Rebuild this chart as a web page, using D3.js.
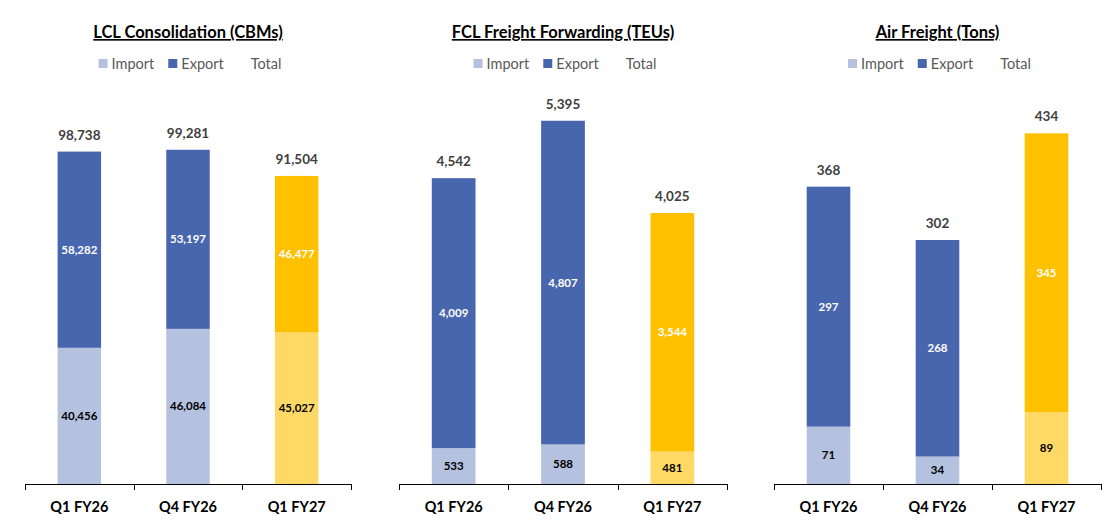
<!DOCTYPE html>
<html>
<head>
<meta charset="utf-8">
<script src="https://cdn.jsdelivr.net/npm/d3@7"></script>
<style>
  body { margin: 0; background: #fff; }
  svg { display: block; font-family: Lato, "Open Sans", sans-serif; }
</style>
</head>
<body>
<svg id="main-svg" width="1120" height="532"></svg>
<script>
'use strict';

const quarters = ['Q1 FY26', 'Q4 FY26', 'Q1 FY27'];

const chart_titles = ['LCL Consolidation (CBMs)', 'FCL Freight Forwarding (TEUs)', 'Air Freight (Tons)'];
const lcl_import = [40456, 46084, 45027];
const lcl_export = [58282, 53197, 46477];
const fcl_import = [533, 588, 481];
const fcl_export = [4009, 4807, 3544];
const air_import = [71, 34, 89];
const air_export = [297, 268, 345];
const y_max = [120000, 6000, 500];

const legend_labels = ['Import', 'Export', 'Total'];

const colors = {
    import: '#b4c2e0',
    export: '#4866ad',
    import_hl: '#ffd966',
    export_hl: '#ffc000',
    text: '#404040',
    legend: '#595959',
};

const panels = [
    {title: chart_titles[0], imp: lcl_import, exp: lcl_export, max: y_max[0], x0: 25, x1: 351},
    {title: chart_titles[1], imp: fcl_import, exp: fcl_export, max: y_max[1], x0: 399, x1: 727},
    {title: chart_titles[2], imp: air_import, exp: air_export, max: y_max[2], x0: 774, x1: 1101},
];

const fmt = d3.format(',');
const svg = d3.select('#main-svg');
const base_y = 484, top_y = 80;

panels.forEach((p) => {
    const g = svg.append('g');
    const cx = (p.x0 + p.x1) / 2;

    const x = d3.scaleBand().domain(quarters).range([p.x0, p.x1]).paddingInner(0.6).paddingOuter(0.3);
    const y = d3.scaleLinear().domain([0, p.max]).range([base_y, top_y]);

    // title
    g.append('text')
        .attr('x', cx).attr('y', 38)
        .attr('text-anchor', 'middle')
        .attr('font-size', 16.5).attr('font-weight', 'bold')
        .attr('fill', '#000')
        .attr('text-decoration', 'underline')
        .text(p.title);

    // legend
    const leg = g.append('g');
    let lx = 0;
    legend_labels.forEach((name, i) => {
        if (i < 2) {
            leg.append('rect').attr('x', lx).attr('y', 59).attr('width', 9).attr('height', 9)
                .attr('fill', i == 0 ? colors.import : colors.export);
        }
        lx += 13;
        const t = leg.append('text').attr('x', lx).attr('y', 69)
            .attr('font-size', 14.5).attr('fill', colors.legend).text(name);
        lx += t.node().getComputedTextLength() + 14;
    });
    const lw = lx - 14;
    leg.attr('transform', `translate(${cx - lw / 2 + 2},0)`);

    const rows = quarters.map((q, i) => ({q, imp: p.imp[i], exp: p.exp[i], hl: i == 2}));

    // import segment
    g.selectAll('rect.imp').data(rows).enter().append('rect')
        .attr('x', (d) => x(d.q)).attr('width', x.bandwidth())
        .attr('y', (d) => y(d.imp)).attr('height', (d) => y(0) - y(d.imp))
        .attr('fill', (d) => d.hl ? colors.import_hl : colors.import);

    // export segment
    g.selectAll('rect.exp').data(rows).enter().append('rect')
        .attr('x', (d) => x(d.q)).attr('width', x.bandwidth())
        .attr('y', (d) => y(d.imp + d.exp)).attr('height', (d) => y(d.imp) - y(d.imp + d.exp))
        .attr('fill', (d) => d.hl ? colors.export_hl : colors.export);

    const mid = (d) => x(d.q) + x.bandwidth() / 2;

    g.selectAll('text.imp').data(rows).enter().append('text')
        .attr('x', mid).attr('y', (d) => (y(0) + y(d.imp)) / 2 + 4)
        .attr('text-anchor', 'middle').attr('font-size', 11.5).attr('font-weight', 'bold')
        .attr('fill', '#000').text((d) => fmt(d.imp));

    g.selectAll('text.exp').data(rows).enter().append('text')
        .attr('x', mid).attr('y', (d) => (y(d.imp) + y(d.imp + d.exp)) / 2 + 4)
        .attr('text-anchor', 'middle').attr('font-size', 11.5).attr('font-weight', 'bold')
        .attr('fill', '#fff').text((d) => fmt(d.exp));

    // totals
    g.selectAll('text.tot').data(rows).enter().append('text')
        .attr('x', mid).attr('y', (d) => y(d.imp + d.exp) - 12)
        .attr('text-anchor', 'middle').attr('font-size', 13.5).attr('font-weight', 'bold')
        .attr('fill', colors.text).text((d) => fmt(d.imp + d.exp));

    // axis
    const ax = g.append('g');
    ax.append('line').attr('x1', p.x0).attr('x2', p.x1).attr('y1', base_y + 0.5).attr('y2', base_y + 0.5)
        .attr('stroke', '#000').attr('stroke-width', 1);
    const step = (p.x1 - p.x0) / quarters.length;
    d3.range(quarters.length + 1).forEach((i) => {
        const tx = Math.round(p.x0 + i * step) + 0.5;
        ax.append('line').attr('x1', tx).attr('x2', tx).attr('y1', base_y).attr('y2', base_y + 6)
            .attr('stroke', '#000');
    });
    ax.selectAll('text').data(quarters).enter().append('text')
        .attr('x', (q) => x(q) + x.bandwidth() / 2).attr('y', 512)
        .attr('text-anchor', 'middle').attr('font-size', 14.5).attr('font-weight', 'bold')
        .attr('fill', '#000').text((q) => q);
});
</script>
</body>
</html>
